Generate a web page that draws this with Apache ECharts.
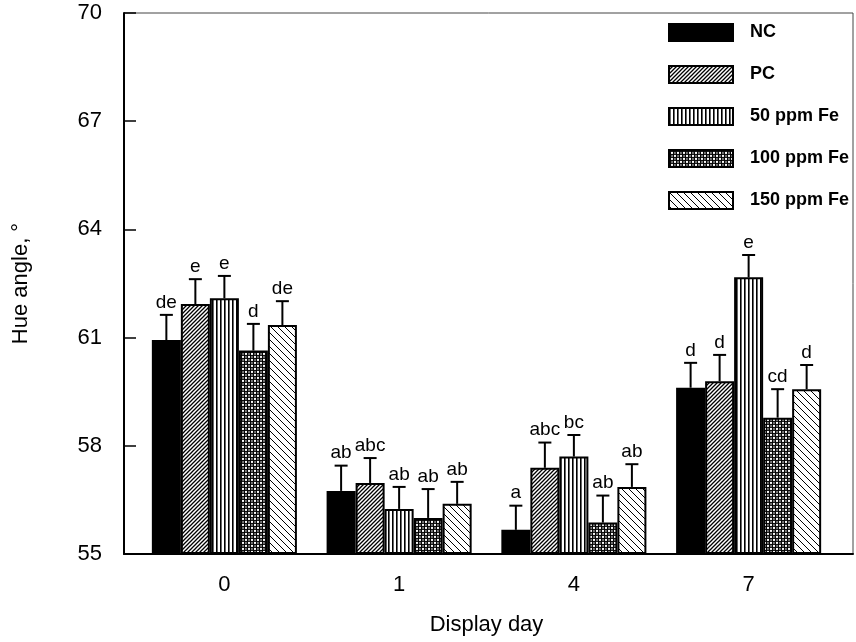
<!DOCTYPE html>
<html>
<head>
<meta charset="utf-8">
<script src="https://cdn.jsdelivr.net/npm/echarts@6/dist/echarts.min.js"></script>
<style>html,body{margin:0;padding:0;background:#fff}#c{width:856px;height:642px}</style>
</head>
<body>
<div id="c"></div>
<script>
// ---- data ----
const days = ['0', '1', '4', '7'];
const treatments = ['NC', 'PC', '50 ppm Fe', '100 ppm Fe', '150 ppm Fe'];
const NC = [60.93, 56.75, 55.67, 59.61];
const PC = [61.93, 56.97, 57.39, 59.79];
const Fe50 = [62.09, 56.25, 57.70, 62.67];
const Fe100 = [60.64, 56.00, 55.87, 58.78];
const Fe150 = [61.35, 56.39, 56.86, 59.57];
const NC_sd = [0.70, 0.70, 0.67, 0.69];
const PC_sd = [0.69, 0.69, 0.70, 0.73];
const Fe50_sd = [0.62, 0.61, 0.60, 0.62];
const Fe100_sd = [0.74, 0.80, 0.75, 0.79];
const Fe150_sd = [0.66, 0.61, 0.63, 0.67];
const NC_letters = ['de', 'ab', 'a', 'd'];
const PC_letters = ['e', 'abc', 'abc', 'd'];
const Fe50_letters = ['e', 'ab', 'bc', 'e'];
const Fe100_letters = ['d', 'ab', 'ab', 'cd'];
const Fe150_letters = ['de', 'ab', 'ab', 'd'];
const yTicks = [55, 58, 61, 64, 67, 70];

const values = [NC, PC, Fe50, Fe100, Fe150];
const sds = [NC_sd, PC_sd, Fe50_sd, Fe100_sd, Fe150_sd];
const letters = [NC_letters, PC_letters, Fe50_letters, Fe100_letters, Fe150_letters];

// ---- fill patterns ----
function mk(w, h, draw) {
  const c = document.createElement('canvas');
  c.width = w; c.height = h;
  const g = c.getContext('2d');
  g.fillStyle = '#fff'; g.fillRect(0, 0, w, h);
  g.strokeStyle = '#000'; g.fillStyle = '#000';
  draw(g);
  return { image: c, repeat: 'repeat' };
}
const patterns = [
  '#000',
  mk(4, 4, g => { g.lineWidth = 1.3; g.beginPath();
    g.moveTo(0, 4); g.lineTo(4, 0); g.moveTo(-1, 1); g.lineTo(1, -1); g.moveTo(3, 5); g.lineTo(5, 3); g.stroke(); }),
  mk(4, 4, g => { g.fillRect(0, 0, 1.6, 4); }),
  mk(6, 6, g => { g.lineWidth = 1.3;
    [[0,0],[6,0],[0,6],[6,6],[3,3]].forEach(p => { g.beginPath(); g.arc(p[0], p[1], 1.8, 0, Math.PI * 2); g.stroke(); }); }),
  mk(7, 7, g => { g.lineWidth = 1; g.beginPath();
    g.moveTo(0, 0); g.lineTo(7, 7); g.moveTo(-1, 6); g.lineTo(1, 8); g.moveTo(6, -1); g.lineTo(8, 1); g.stroke(); })
];

const GAP = 0.17;
const FONT = '"Liberation Sans", Arial, Helvetica, sans-serif';

const series = [];
treatments.forEach((name, i) => {
  series.push({
    name: name, type: 'bar', xAxisIndex: 1, yAxisIndex: 1,
    data: values[i], barGap: '0%', barCategoryGap: (GAP * 100) + '%',
    itemStyle: { color: patterns[i], borderColor: '#000', borderWidth: 2 },
    z: 2
  });
});
treatments.forEach((name, i) => {
  series.push({
    name: name + ' err', type: 'custom', xAxisIndex: 1, yAxisIndex: 1, z: 3,
    data: days.map((d, k) => [k, values[i][k], sds[i][k]]),
    renderItem: function (params, api) {
      const cat = api.value(0), mean = api.value(1), sd = api.value(2);
      const base = api.coord([cat, mean]);
      const top = api.coord([cat, mean + sd]);
      const band = api.size([1, 0])[0];
      const group = band * (1 - GAP);
      const bw = group / treatments.length;
      const x = base[0] - group / 2 + bw * (i + 0.5);
      return { type: 'group', children: [
        { type: 'line', shape: { x1: x, y1: base[1], x2: x, y2: top[1] }, style: { stroke: '#000', lineWidth: 2 } },
        { type: 'line', shape: { x1: x - 6.5, y1: top[1], x2: x + 6.5, y2: top[1] }, style: { stroke: '#000', lineWidth: 2 } },
        { type: 'text', style: { text: letters[i][params.dataIndex], x: x, y: top[1] - 3, align: 'center', verticalAlign: 'bottom',
            fontSize: 19, fontFamily: FONT, fill: '#000' } }
      ] };
    }
  });
});

const chart = echarts.init(document.getElementById('c'), null, { renderer: 'canvas' });
chart.setOption({
  animation: false,
  backgroundColor: '#fff',
  textStyle: { fontFamily: FONT },
  grid: [
    { left: 124, right: 3, top: 13, bottom: 88, show: true, borderColor: '#444', borderWidth: 1 },
    { left: 137, right: 20, top: 13, bottom: 88 }
  ],
  legend: {
    data: treatments, orient: 'vertical', left: 663, top: 18, icon: 'rect',
    itemWidth: 64, itemHeight: 17, itemGap: 23,
    textStyle: { fontSize: 18, fontWeight: 'bold', color: '#000', fontFamily: FONT, padding: [0, 0, 0, 12] },
    itemStyle: { borderColor: '#000', borderWidth: 2 },
    selectedMode: false
  },
  xAxis: [
    { gridIndex: 0, type: 'value', min: 0, max: 1,
      axisLine: { show: true, lineStyle: { color: '#000', width: 2 } },
      axisTick: { show: false }, axisLabel: { show: false }, splitLine: { show: false } },
    { gridIndex: 1, type: 'category', data: days,
      axisLine: { show: false }, axisTick: { show: false },
      axisLabel: { fontSize: 22, color: '#000', margin: 20, fontFamily: FONT },
      name: 'Display day', nameLocation: 'middle', nameGap: 60,
      nameTextStyle: { fontSize: 22, color: '#000', fontFamily: FONT } }
  ],
  yAxis: [
    { gridIndex: 0, type: 'value', min: 55, max: 70,
      axisLine: { show: true, lineStyle: { color: '#000', width: 2 } },
      axisTick: { show: true, inside: true, length: 12, lineStyle: { color: '#000', width: 1.5 }, customValues: yTicks },
      axisLabel: { fontSize: 22, color: '#000', margin: 22, fontFamily: FONT, customValues: yTicks },
      splitLine: { show: false },
      name: 'Hue angle, °', nameLocation: 'middle', nameGap: 92, nameRotate: 90,
      nameTextStyle: { fontSize: 22, color: '#000', fontFamily: FONT } },
    { gridIndex: 1, type: 'value', min: 55, max: 70, startValue: 55, show: false, splitLine: { show: false } }
  ],
  series: series
});
</script>
</body>
</html>
